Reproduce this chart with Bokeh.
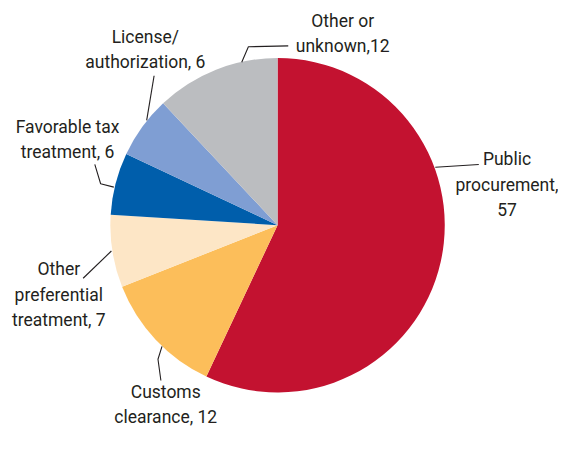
import math
from bokeh.plotting import figure
from bokeh.models import Range1d, ColumnDataSource
from bokeh.core.properties import value
from bokeh.embed import file_html
from bokeh.resources import INLINE

# ---- data ----
categories = ["Public procurement", "Customs clearance", "Other preferential treatment",
              "Favorable tax treatment", "License/authorization", "Other or unknown"]
values = [57, 12, 7, 6, 6, 12]
labels = ["Public\nprocurement,\n57", "Customs\nclearance, 12", "Other\npreferential\ntreatment, 7",
          "Favorable tax\ntreatment, 6", "License/\nauthorization, 6", "Other or\nunknown,12"]
colors = ["#C31230", "#FCBE5A", "#FDE6C6", "#005EAB", "#7F9ED3", "#BBBDC0"]

# ---- layout (reference-image pixel coordinates; y is negated so it grows downward) ----
W, H = 558, 433
REF_W, REF_H = 574, 449
CX, CY, R = 285, 233, 172
label_pos = [(521, 191), (170, 419), (60, 305), (69, 144), (149, 51), (352, 34)]
leader_angle = [20.3, 226.6, 188.9, 166.8, 141.1, 102.3]
leader_rest = [[(492, 170)],
               [(162, 372), (165, 394)],
               [(85, 288)],
               [(103, 190), (97, 170)],
               [(158, 78)],
               [(255, 48), (296, 47)]]
FONT = "Roboto"

p = figure(width=W, height=H, output_backend="svg", toolbar_location=None,
           x_range=Range1d(0, REF_W), y_range=Range1d(-REF_H, 0),
           min_border=0, outline_line_color=None)
p.axis.visible = False
p.grid.visible = False
p.background_fill_color = "white"
p.border_fill_color = "white"

total = float(sum(values))
starts, ends = [], []
cum = 0.0
for v in values:
    a0 = math.pi / 2 - 2 * math.pi * cum / total
    cum += v
    a1 = math.pi / 2 - 2 * math.pi * cum / total
    starts.append(a1)
    ends.append(a0)

src = ColumnDataSource(dict(cat=categories, val=values, start=starts, end=ends, color=colors))
p.wedge(x=CX, y=-CY, radius=R, start_angle="start", end_angle="end", direction="anticlock",
        fill_color="color", line_color=None, source=src)

xs, ys = [], []
for ang, rest in zip(leader_angle, leader_rest):
    t = math.radians(ang)
    px = [CX + (R + 1) * math.cos(t)] + [q[0] for q in rest]
    py = [-(CY - (R + 1) * math.sin(t))] + [-q[1] for q in rest]
    xs.append(px)
    ys.append(py)
p.multi_line(xs=xs, ys=ys, line_color="#231F20", line_width=1.1)

p.text(x=[q[0] for q in label_pos], y=[-q[1] for q in label_pos], text=labels,
       text_align="center", text_baseline="middle", text_font=value(FONT),
       text_font_size="17.5px", text_line_height=1.27, text_color="#231F20")

open("out.html", "w").write(file_html(p, INLINE))
